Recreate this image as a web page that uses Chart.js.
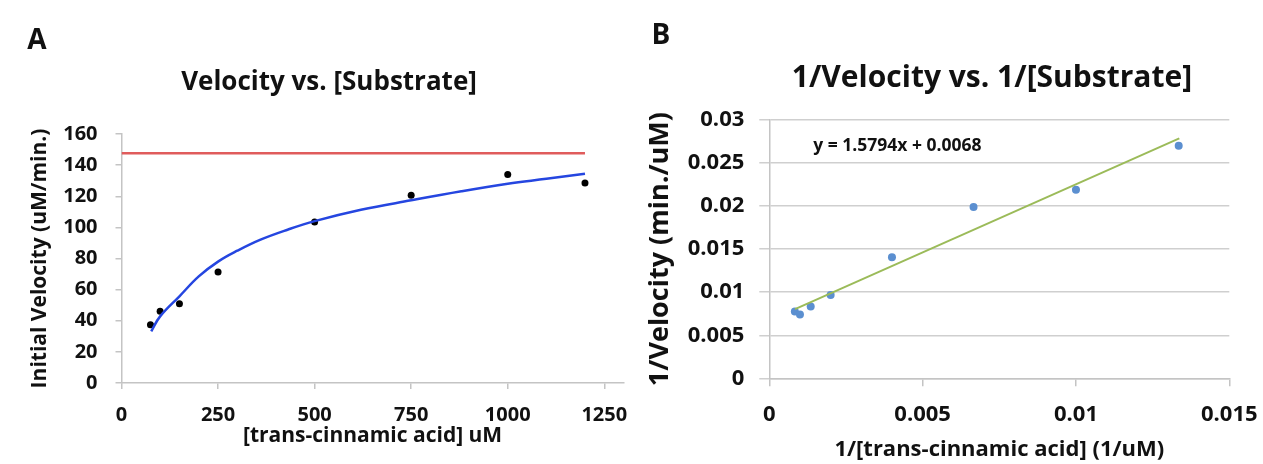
<!DOCTYPE html>
<html>
<head>
<meta charset="utf-8">
<script src="https://cdn.jsdelivr.net/npm/chart.js@4.4.1/dist/chart.umd.min.js"></script>
<style>
  body { margin: 0; background: #fff; font-family: "Open Sans", sans-serif; color: #111; }
  #page { position: relative; width: 1263px; height: 464px; overflow: hidden; }
  canvas { position: absolute; top: 0; }
  #chartA { left: 0; }
  #chartB { left: 632px; }
  .lbl { position: absolute; font-weight: 700; white-space: nowrap; transform: translate(-50%, -50%); }
</style>
</head>
<body>
<div id="page">
  <canvas id="chartA" width="632" height="464"></canvas>
  <canvas id="chartB" width="631" height="464"></canvas>
  <div class="lbl" style="left:37px;top:38px;font-size:28px">A</div>
  <div class="lbl" style="left:661px;top:33px;font-size:28px">B</div>
  <div class="lbl" style="left:329px;top:80px;font-size:26px">Velocity vs. [Substrate]</div>
  <div class="lbl" style="left:992px;top:75px;font-size:30px">1/Velocity vs. 1/[Substrate]</div>
</div>
<script>
// panel A: velocity vs substrate
const substrate = [75, 100, 150, 250, 500, 750, 1000, 1200];
const velocity = [37.5, 46.1, 51.0, 71.3, 103.5, 120.6, 133.9, 128.5];
// fitted curve
const fitX = [77, 100, 150, 200, 250, 300, 360, 430, 500, 620, 750, 880, 1000, 1100, 1200];
const fitY = [33.2, 42.8, 55.7, 68.5, 78.0, 85.0, 92.1, 98.5, 104.0, 111.3, 117.4, 123.2, 128.0, 131.2, 134.5];
// Vmax line
const vmaxX = [0, 1200];
const vmaxY = [147.6, 147.6];
const xTicksA = [0, 250, 500, 750, 1000, 1250];

// panel B: Lineweaver-Burk
const invSubstrate = [0.000833, 0.001, 0.00135, 0.002, 0.004, 0.00666, 0.01, 0.01335];
const invVelocity = [0.00777, 0.00742, 0.00835, 0.00968, 0.01407, 0.0199, 0.0219, 0.027];
const trendX = [0.000839, 0.01337];
const trendY = [0.00804, 0.02786];
const eqText = 'y = 1.5794x + 0.0068';
const eqAt = [0.00143, 0.0270];

const pts = (xs, ys) => xs.map((x, i) => ({x: x, y: ys[i]}));
const FONT = '"Open Sans", sans-serif';
const plain = v => String(+v.toFixed(4));
const noPadX = s => { s.paddingLeft = 0; s.paddingRight = 0; };
const noPadY = s => { s.paddingTop = 0; s.paddingBottom = 0; };

const eqLabel = {
  id: 'eqLabel',
  afterDatasetsDraw(chart) {
    const {ctx, scales} = chart;
    ctx.save();
    ctx.font = '700 17.5px ' + FONT;
    ctx.fillStyle = '#111';
    ctx.textBaseline = 'middle';
    ctx.fillText(eqText, scales.x.getPixelForValue(eqAt[0]), scales.y.getPixelForValue(eqAt[1]));
    ctx.restore();
  }
};

new Chart(document.getElementById('chartA'), {
  type: 'scatter',
  data: {
    datasets: [
      {
        data: pts(vmaxX, vmaxY),
        showLine: true,
        borderColor: '#e05c5c',
        borderWidth: 2.5,
        pointRadius: 0
      },
      {
        data: pts(fitX, fitY),
        showLine: true,
        tension: 0.4,
        borderColor: '#2546e0',
        borderWidth: 2.5,
        pointRadius: 0
      },
      {
        data: pts(substrate, velocity),
        pointRadius: 3.5,
        pointBackgroundColor: '#000',
        pointBorderWidth: 0
      }
    ]
  },
  options: {
    responsive: false,
    animation: false,
    layout: { padding: { top: 134, right: 8.4, bottom: 0, left: 0 } },
    plugins: { legend: { display: false }, tooltip: { enabled: false } },
    scales: {
      x: {
        type: 'linear',
        min: 0,
        max: 1300,
        afterBuildTicks: s => { s.ticks = xTicksA.map(v => ({value: v})); },
        afterFit: s => { s.height = 81; noPadX(s); },
        border: { color: '#c4c4c4', width: 1.5 },
        grid: { drawOnChartArea: false, color: '#c4c4c4', tickLength: 6, lineWidth: 1.5 },
        ticks: {
          autoSkip: false,
          padding: 14,
          color: '#111',
          font: { family: FONT, size: 20, weight: 'bold' },
          callback: plain
        },
        title: {
          display: true,
          text: '[trans-cinnamic acid] uM',
          color: '#111',
          padding: { top: 0, bottom: 15 },
          font: { family: FONT, size: 21, weight: 'bold' }
        }
      },
      y: {
        min: 0,
        max: 160,
        afterFit: s => { s.width = 121.5; noPadY(s); },
        border: { color: '#c4c4c4', width: 1.5 },
        grid: { drawOnChartArea: false, color: '#c4c4c4', tickLength: 6, lineWidth: 1.5 },
        ticks: { stepSize: 20, padding: 18, color: '#111', font: { family: FONT, size: 20, weight: 'bold' } },
        title: {
          display: true,
          text: 'Initial Velocity (uM/min.)',
          color: '#111',
          padding: { top: 27, bottom: 0 },
          font: { family: FONT, size: 21, weight: 'bold' }
        }
      }
    }
  }
});

new Chart(document.getElementById('chartB'), {
  type: 'scatter',
  data: {
    datasets: [
      {
        data: pts(trendX, trendY),
        showLine: true,
        borderColor: '#9bbb59',
        borderWidth: 2,
        pointRadius: 0
      },
      {
        data: pts(invSubstrate, invVelocity),
        pointRadius: 4,
        pointBackgroundColor: '#5b8fd0',
        pointBorderWidth: 0
      }
    ]
  },
  options: {
    responsive: false,
    animation: false,
    layout: { padding: { top: 120, right: 33.7, bottom: 0, left: 0 } },
    plugins: { legend: { display: false }, tooltip: { enabled: false } },
    scales: {
      x: {
        type: 'linear',
        min: 0,
        max: 0.015,
        afterFit: s => { s.height = 85.7; noPadX(s); },
        border: { color: '#c4c4c4', width: 1.5 },
        grid: { drawOnChartArea: false, color: '#c4c4c4', tickLength: 8, lineWidth: 1.5 },
        ticks: {
          stepSize: 0.005,
          padding: 15,
          color: '#111',
          font: { family: FONT, size: 22, weight: 'bold' },
          callback: plain
        },
        title: {
          display: true,
          text: '1/[trans-cinnamic acid] (1/uM)',
          color: '#111',
          padding: { top: 0, bottom: 1 },
          font: { family: FONT, size: 22, weight: 'bold' }
        }
      },
      y: {
        min: 0,
        max: 0.03,
        afterFit: s => { s.width = 137.3; noPadY(s); },
        border: { color: '#c4c4c4', width: 1.5 },
        grid: { color: '#cfcfcf', tickLength: 10, lineWidth: 1.5 },
        ticks: {
          stepSize: 0.005,
          padding: 15,
          color: '#111',
          font: { family: FONT, size: 22, weight: 'bold' },
          callback: plain
        },
        title: {
          display: true,
          text: '1/Velocity (min./uM)',
          color: '#111',
          padding: { top: 12, bottom: 0 },
          font: { family: FONT, size: 27, weight: 'bold' }
        }
      }
    }
  },
  plugins: [eqLabel]
});
</script>
</body>
</html>
